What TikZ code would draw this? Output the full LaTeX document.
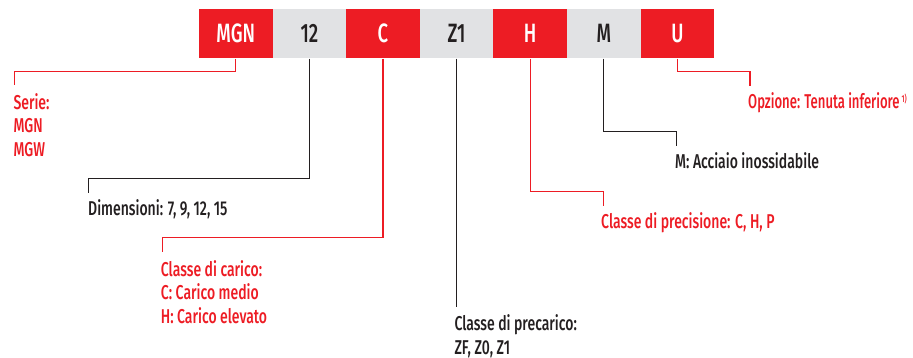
\documentclass[tikz,border=0pt]{standalone}
\usepackage{fontspec}
\setmainfont{Fira Sans}[UprightFont=* Medium, FakeStretch=0.70]
\newfontfamily\narrowfont{Fira Sans}[UprightFont=* Medium, FakeStretch=0.655]
\definecolor{hred}{RGB}{237,28,36}
\definecolor{hgray}{RGB}{225,226,228}
\definecolor{hdark}{RGB}{35,31,32}
\tikzset{
 codebox/.style={rectangle, inner sep=0pt, minimum width=73.6pt, minimum height=49.5pt, font=\fontsize{26.5}{26.5}\selectfont},
 redbox/.style={codebox, fill=hred, text=white},
 graybox/.style={codebox, fill=hgray, text=hdark},
 lbl/.style={anchor=base west, inner sep=0pt, align=left, font=\fontsize{20}{23.7}\selectfont},
 redlbl/.style={lbl, text=hred},
 darklbl/.style={lbl, text=hdark},
 redlead/.style={draw=hred, line width=1.1pt},
 darklead/.style={draw=hdark, line width=1.1pt},
}
\begin{document}
\begin{tikzpicture}[x=1pt,y=-1pt]
\path[use as bounding box] (0,0) rectangle (913,358);
% code boxes
\node[redbox]  (b1) at (235.8,33.75) {MGN};
\node[graybox] (b2) at (309.4,33.75) {12};
\node[redbox]  (b3) at (383.0,33.75) {C};
\node[graybox] (b4) at (456.6,33.75) {Z1};
\node[redbox]  (b5) at (530.2,33.75) {H};
\node[graybox] (b6) at (603.8,33.75) {M};
\node[redbox]  (b7) at (677.4,33.75) {U};
% labels (base anchor = baseline of the last line)
\node[redlbl]  (serie) at (13.3,156.5) {Serie:\\MGN\\MGW};
\node[darklbl] (dim) at (88,216) {Dimensioni: 7, 9, 12, 15};
\node[redlbl]  (carico) at (160.7,323.5) {Classe di carico:\\C: Carico medio\\H: Carico elevato};
\node[darklbl] (precarico) at (454.3,354.5) {Classe di precarico:\\ZF, Z0, Z1};
\node[redlbl]  (precisione) at (601,229) {Classe di precisione: C, H, P};
\node[darklbl] (acciaio) at (675,169) {M: Acciaio inossidabile};
\node[redlbl]  (opzione) at (748,109) {\narrowfont Opzione: Tenuta inferiore\hspace{2pt}\raisebox{6.5pt}{\fontsize{10}{10}\selectfont 1)}};
% leader ends
\coordinate (serieTop) at (14.7,85);
\coordinate (dimTop) at (88.3,192.7);
\coordinate (carTop) at (162.3,252.3);
\coordinate (preEnd) at (456.6,307);
\coordinate (precTop) at (603.3,205.7);
\coordinate (accTop) at (676.3,145.7);
\coordinate (optTop) at (750,85.7);
% leaders
\draw[redlead]  (b1.south) -- ++(0,12.5) -| (serieTop);
\draw[darklead] (b2.south) -- ++(0,119.5) -| (dimTop);
\draw[redlead]  (b3.south) -- ++(0,179.2) -| (carTop);
\draw[darklead] (b4.south) -- (preEnd);
\draw[redlead]  (b5.south) -- ++(0,132.5) -| (precTop);
\draw[darklead] (b6.south) -- ++(0,72.5) -| (accTop);
\draw[redlead]  (b7.south) -- ++(0,12.5) -| (optTop);
\end{tikzpicture}
\end{document}
